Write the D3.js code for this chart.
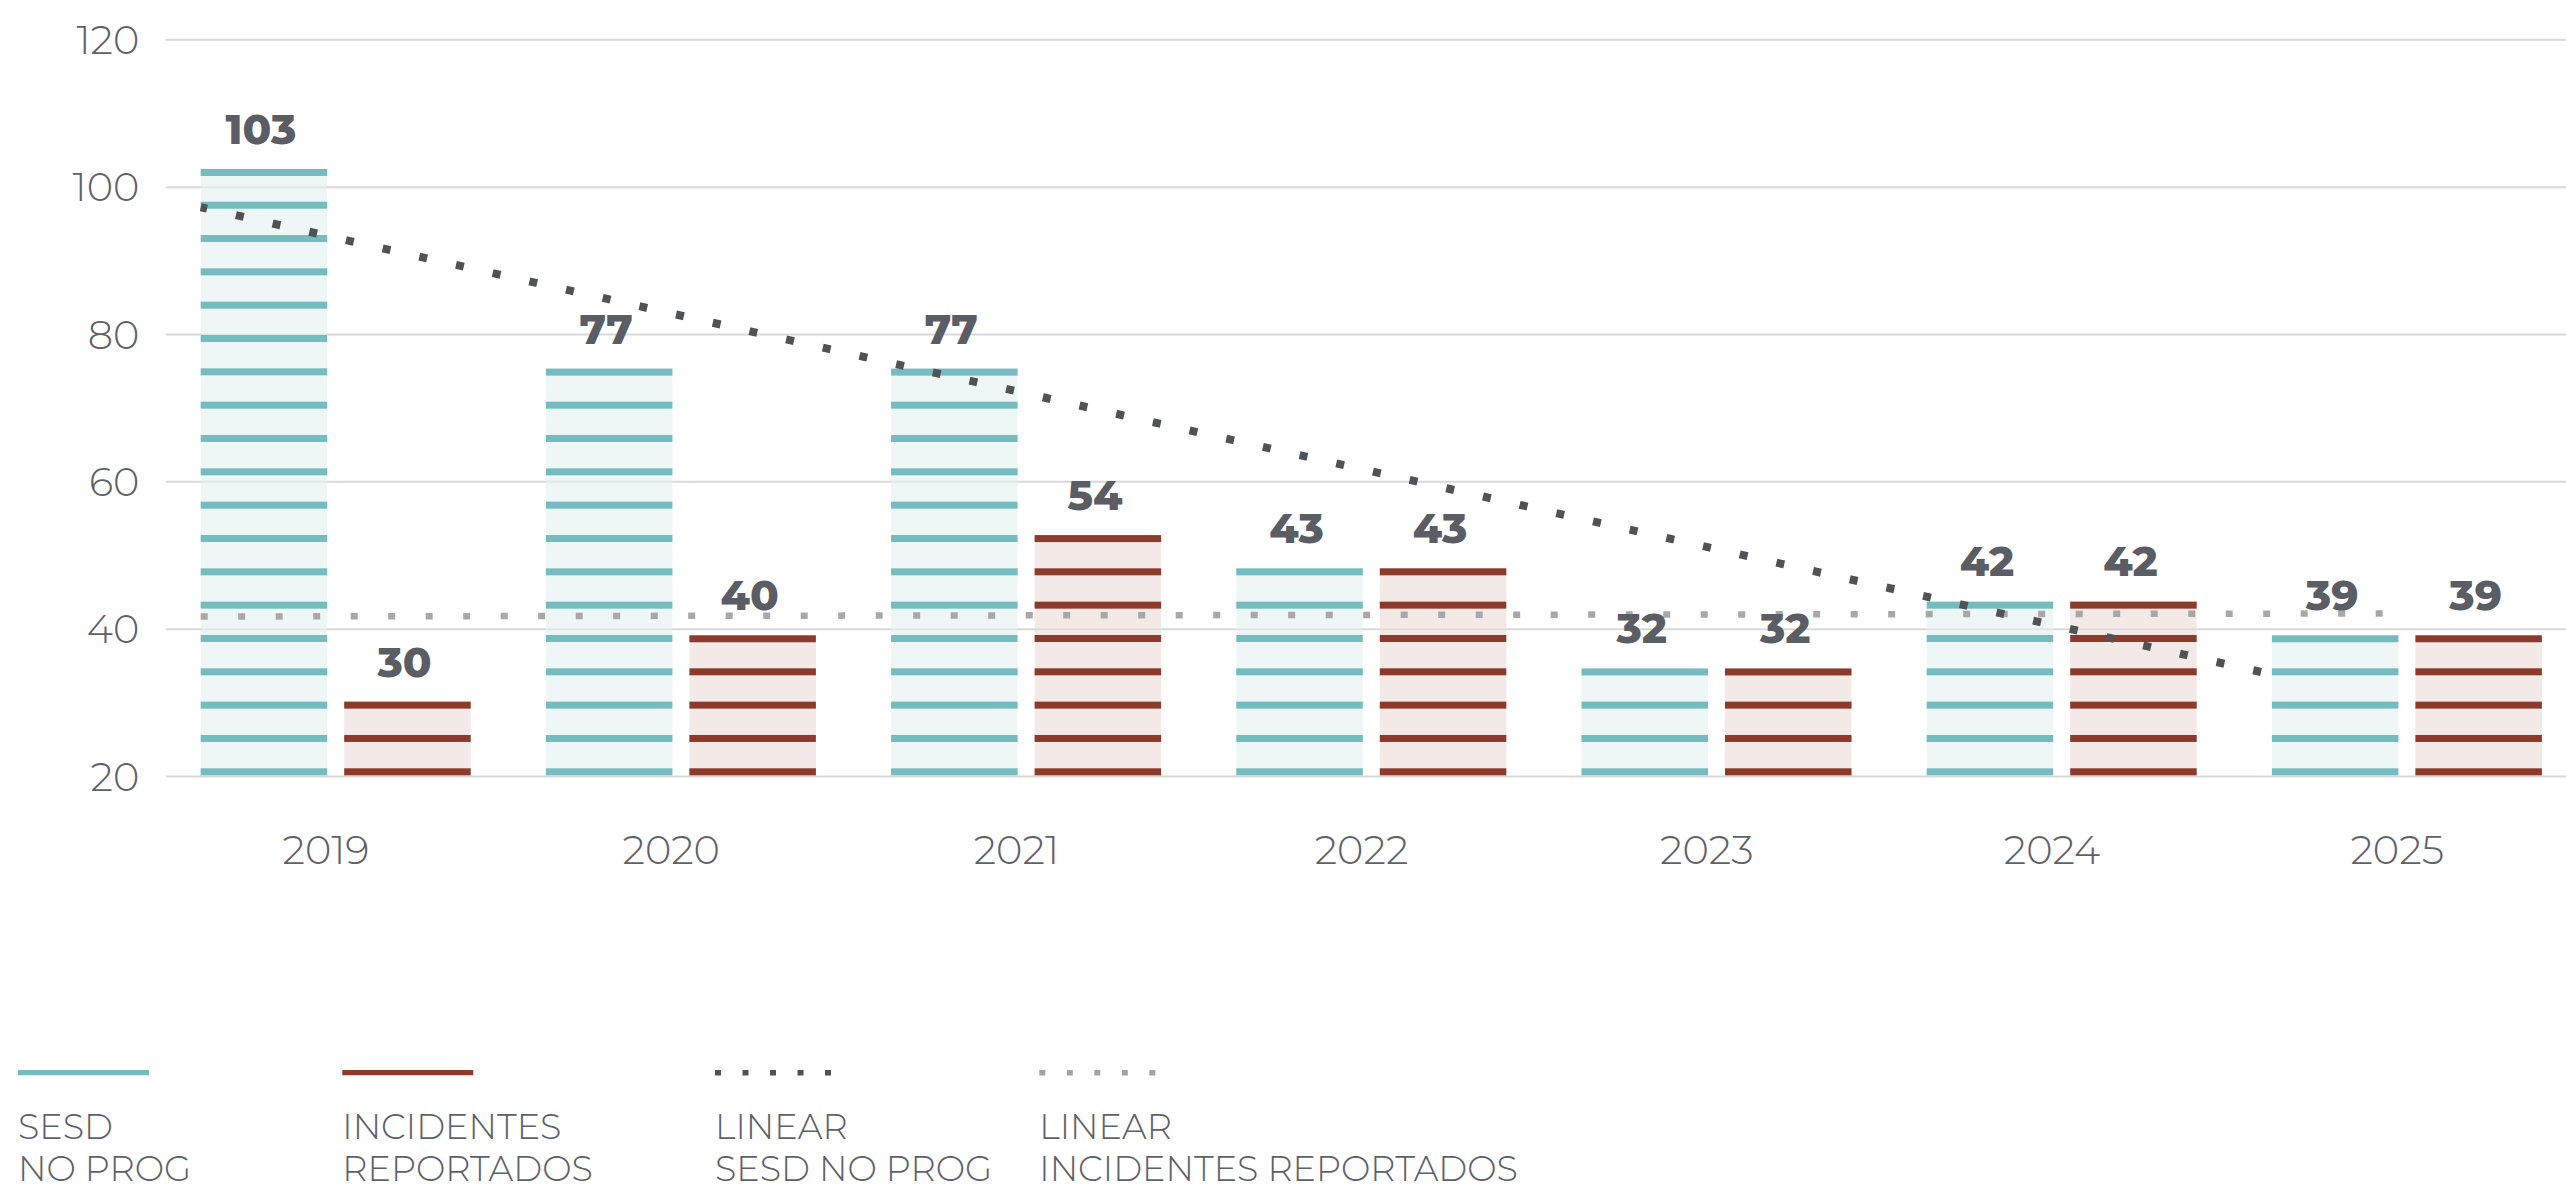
<!DOCTYPE html>
<html>
<head>
<meta charset="utf-8">
<script src="https://cdn.jsdelivr.net/npm/d3@7"></script>
<style>
  html, body { margin: 0; padding: 0; background: #ffffff; overflow: hidden; }
  svg { display: block; }
</style>
</head>
<body>
<svg id="chart" width="2566" height="1184"></svg>
<script>
// ---------- DATA ----------
const years = ['2019', '2020', '2021', '2022', '2023', '2024', '2025'];
const sesdValues = [102.4, 75.3, 75.3, 48.2, 34.6, 43.7, 39.1];        // bar heights as drawn
const incidentesValues = [30.1, 39.1, 52.7, 48.2, 34.6, 43.7, 39.1];  // bar heights as drawn
const sesdLabels = ['103', '77', '77', '43', '32', '42', '39'];
const incidentesLabels = ['30', '40', '54', '43', '32', '42', '39'];
const yTicks = [20, 40, 60, 80, 100, 120];
// linear trend lines: position in category units (0 = 2019) and value
const sesdTrendPos = [0, 5.97];
const sesdTrendValues = [97.2, 34.1];
const incidentesTrendPos = [0, 6.35];
const incidentesTrendValues = [41.65, 42.06];
const legendLabels = [
  ['SESD', 'NO PROG'],
  ['INCIDENTES', 'REPORTADOS'],
  ['LINEAR', 'SESD NO PROG'],
  ['LINEAR', 'INCIDENTES REPORTADOS']
];

// ---------- STYLE ----------
const W = 2566, H = 1184;
const FONT = "Montserrat, 'Open Sans', 'Noto Sans', sans-serif";
const TEXT = '#5e6168';
const LABEL = '#5a5d64';
const GRID = '#d9d9d9';
const TEAL = '#74bcbf', TEAL_FILL = '#e3f2f0';
const RED = '#8c3a2c', RED_FILL = '#ebdad7';
const DARK_DOT = '#505356', GRAY_DOT = '#a3a3a3';
const STRIPE_H = 7, STRIPE_P = 33.33, STRIPE_OFF = 7.7;

const svg = d3.select('#chart');

// ---------- SCALES ----------
const plotLeft = 165.7;
const y = d3.scaleLinear().domain([20, 120]).range([776, 39.3]);
const step = 345.2;
const x = d3.scaleBand().domain(years).range([153.4, 153.4 + step * years.length]).padding(0);
const xs = d3.scaleBand().domain(['sesd', 'inc']).range([47.3, 47.3 + 270]).paddingInner(17 / 143.5).paddingOuter(0);
const catX = d3.scaleLinear().domain([0, years.length - 1])
  .range([x(years[0]) + xs('sesd'), x(years[years.length - 1]) + xs('sesd')]);

// ---------- GRID + Y AXIS ----------
const yAxis = svg.append('g')
  .attr('transform', `translate(${plotLeft},0)`)
  .call(d3.axisLeft(y).tickValues(yTicks).tickSize(-(W - plotLeft)).tickPadding(26.4).tickFormat(d3.format('d')));
yAxis.select('.domain').remove();
yAxis.selectAll('.tick line').attr('stroke', GRID).attr('stroke-width', 2);
yAxis.selectAll('.tick text')
  .attr('fill', TEXT).attr('font-family', FONT).attr('font-weight', 300).attr('font-size', 40)
  .attr('dy', '0.357em');

// ---------- X AXIS ----------
const xAxis = svg.append('g')
  .attr('transform', `translate(0,${y(20)})`)
  .call(d3.axisBottom(x).tickSize(0).tickPadding(59.9));
xAxis.select('.domain').remove();
xAxis.selectAll('.tick text')
  .attr('fill', TEXT).attr('font-family', FONT).attr('font-weight', 300).attr('font-size', 40);

// ---------- BARS ----------
const barData = [];
years.forEach((yr, i) => {
  barData.push({ year: yr, key: 'sesd', value: sesdValues[i], label: sesdLabels[i] });
  barData.push({ year: yr, key: 'inc', value: incidentesValues[i], label: incidentesLabels[i] });
});
const colors = { sesd: { stripe: TEAL, fill: TEAL_FILL }, inc: { stripe: RED, fill: RED_FILL } };

const bars = svg.append('g').selectAll('g.bar').data(barData).join('g').attr('class', 'bar');
bars.append('rect')
  .attr('x', d => x(d.year) + xs(d.key))
  .attr('y', d => y(d.value))
  .attr('width', xs.bandwidth())
  .attr('height', d => y(20) - y(d.value))
  .attr('fill', d => colors[d.key].fill)
  .attr('fill-opacity', 0.6);

bars.each(function (d) {
  const g = d3.select(this);
  const bottom = y(20), top = y(d.value);
  const h = bottom - top;
  const n = Math.round((h - STRIPE_OFF) / STRIPE_P);
  const stripes = d3.range(n + 1).map(k => Math.max(top, bottom - STRIPE_OFF - k * STRIPE_P));
  g.selectAll('rect.stripe').data(stripes).join('rect')
    .attr('class', 'stripe')
    .attr('x', x(d.year) + xs(d.key))
    .attr('y', s => s)
    .attr('width', xs.bandwidth())
    .attr('height', STRIPE_H)
    .attr('fill', colors[d.key].stripe);
});

// ---------- TREND LINES ----------
const line = d3.line().x(d => catX(d[0])).y(d => y(d[1]));
svg.append('path')
  .datum(incidentesTrendPos.map((p, i) => [p, incidentesTrendValues[i]]))
  .attr('d', line)
  .attr('fill', 'none')
  .attr('stroke', GRAY_DOT)
  .attr('stroke-width', 6.5)
  .attr('stroke-dasharray', '7 30.5')
  .attr('opacity', 0.95);
svg.append('path')
  .datum(sesdTrendPos.map((p, i) => [p, sesdTrendValues[i]]))
  .attr('d', line)
  .attr('fill', 'none')
  .attr('stroke', DARK_DOT)
  .attr('stroke-width', 8)
  .attr('stroke-dasharray', '8 29.6')
  .attr('stroke-dashoffset', 1.5);

// ---------- DATA LABELS ----------
svg.append('g').selectAll('text').data(barData).join('text')
  .attr('x', d => x(d.year) + xs(d.key) + xs.bandwidth() / 2 - 3)
  .attr('y', d => y(d.value) - 25)
  .attr('text-anchor', 'middle')
  .attr('fill', LABEL)
  .attr('font-family', FONT)
  .attr('font-weight', 800)
  .attr('font-size', 42)
  .text(d => d.label);

// ---------- LEGEND ----------
const legendX = [18, 342.3, 715, 1039.3];
const legend = svg.append('g').selectAll('g').data(legendLabels).join('g')
  .attr('transform', (d, i) => `translate(${legendX[i]},0)`);
const swatchStyles = [
  { color: TEAL, width: 5.3, dash: null, len: 131 },
  { color: RED, width: 5.3, dash: null, len: 131 },
  { color: DARK_DOT, width: 5.5, dash: '6 21.5', len: 116.5 },
  { color: GRAY_DOT, width: 5.5, dash: '6 21.5', len: 116.5 }
];
legend.append('line')
  .attr('x1', 0).attr('x2', (d, i) => swatchStyles[i].len)
  .attr('y1', 1072.7).attr('y2', 1072.7)
  .attr('stroke', (d, i) => swatchStyles[i].color)
  .attr('stroke-width', (d, i) => swatchStyles[i].width)
  .attr('stroke-dasharray', (d, i) => swatchStyles[i].dash);
legend.each(function (d) {
  d3.select(this).selectAll('text').data(d).join('text')
    .attr('x', 0)
    .attr('y', (t, j) => 1139.3 + j * 42)
    .attr('fill', TEXT)
    .attr('font-family', FONT)
    .attr('font-weight', 300)
    .attr('font-size', 35)
    .text(t => t);
});
</script>
</body>
</html>
